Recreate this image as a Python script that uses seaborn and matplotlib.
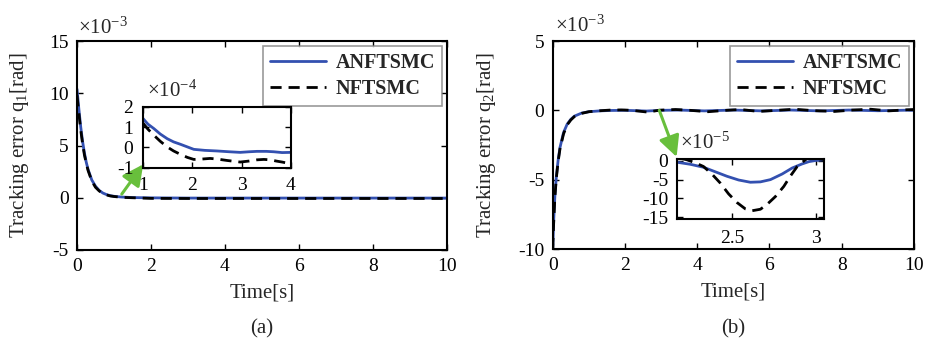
import numpy as np
import pandas as pd
import matplotlib
matplotlib.use("Agg")
import matplotlib.pyplot as plt
import seaborn as sns
from matplotlib.lines import Line2D

sns.set_theme(style="ticks")
plt.rcParams["font.family"] = ["Liberation Serif", "DejaVu Serif"]
plt.rcParams["mathtext.fontset"] = "custom"
plt.rcParams["mathtext.rm"] = "Liberation Serif"
plt.rcParams["mathtext.it"] = "Liberation Serif:italic"
plt.rcParams["axes.unicode_minus"] = False

# ---------------- data (panel a, x1e-3 rad) ----------------
t_a = [0, 0.05, 0.1, 0.15, 0.2, 0.25, 0.3, 0.4, 0.5, 0.6, 0.7, 0.8, 0.9, 1.0,
       1.2, 1.5, 2, 3, 4, 5, 6, 7, 8, 9, 10]
anf_a = [10.4, 8.5, 6.8, 5.4, 4.3, 3.4, 2.7, 1.7, 1.1, 0.7, 0.45, 0.3, 0.2, 0.14,
         0.07, 0.02, -0.01, -0.03, -0.03, -0.03, -0.03, -0.03, -0.03, -0.03, -0.03]
nf_a = [9.8, 8.1, 6.5, 5.2, 4.1, 3.3, 2.6, 1.6, 1.0, 0.65, 0.42, 0.27, 0.17, 0.12,
        0.04, 0.0, -0.06, -0.07, -0.07, -0.07, -0.07, -0.07, -0.07, -0.07, -0.07]

# inset a (x1e-4 rad)
ti_a = [1.0, 1.1, 1.22, 1.35, 1.49, 1.62, 1.76, 1.9, 2.03, 2.25, 2.5, 2.75, 2.97, 3.15, 3.31, 3.5, 3.65, 3.82, 4.0]
anfi_a = [1.43, 1.15, 0.93, 0.66, 0.43, 0.27, 0.15, 0.02, -0.1, -0.15, -0.18, -0.22, -0.25, -0.22, -0.2, -0.2, -0.22, -0.26, -0.25]
ti_a2 = [1.0, 1.1, 1.22, 1.35, 1.49, 1.62, 1.76, 1.9, 2.03, 2.2, 2.36, 2.5, 2.7, 2.97, 3.15, 3.31, 3.45, 3.58, 3.7, 3.82, 4.0]
nfi_a = [1.2, 0.9, 0.6, 0.3, 0.02, -0.18, -0.35, -0.5, -0.6, -0.58, -0.55, -0.58, -0.65, -0.73, -0.68, -0.62, -0.6, -0.62, -0.68, -0.73, -0.82]

# ---------------- data (panel b, x1e-3 rad) ----------------
t_b = [0, 0.03, 0.06, 0.1, 0.15, 0.2, 0.3, 0.4, 0.5, 0.6, 0.8, 1.0, 1.3, 1.6,
       2.0, 2.6, 3.0, 3.5, 4.2, 5.0, 5.8, 6.6, 7.4, 8.2, 9.0, 9.8, 10]
anf_b = [-10, -7.8, -6.2, -4.8, -3.6, -2.7, -1.6, -1.0, -0.65, -0.42, -0.2, -0.1, -0.04, -0.01,
         0.0, -0.05, 0.0, 0.02, -0.04, 0.02, -0.04, 0.02, -0.04, 0.02, -0.03, 0.01, 0.0]
t_b2 = [0, 0.03, 0.06, 0.1, 0.15, 0.2, 0.3, 0.4, 0.5, 0.6, 0.8, 1.0, 1.3, 1.6,
        1.9, 2.2, 2.63, 2.95, 3.4, 3.8, 4.3, 4.8, 5.2, 5.7, 6.2, 6.7, 7.2, 7.8, 8.3, 8.8, 9.3, 9.8, 10]
nf_b = [-10, -7.9, -6.3, -4.9, -3.7, -2.8, -1.7, -1.05, -0.7, -0.45, -0.22, -0.1, -0.03, 0.02,
        0.03, 0.0, -0.13, 0.01, 0.06, 0.0, -0.1, 0.0, 0.06, -0.08, 0.0, 0.08, -0.02, -0.08, 0.02, 0.08, -0.04, 0.04, 0.06]

# inset b (x1e-5 rad)
ti_b = [2.17, 2.25, 2.33, 2.4, 2.47, 2.54, 2.61, 2.67, 2.73, 2.8, 2.86, 2.92, 2.96, 3.0, 3.05]
anfi_b = [-0.35, -0.9, -1.7, -2.9, -4.1, -5.1, -5.7, -5.6, -5.0, -3.5, -1.9, -0.8, -0.2, 0.1, 0.3]
ti_b2 = [2.2, 2.23, 2.28, 2.33, 2.38, 2.43, 2.48, 2.53, 2.58, 2.62, 2.67, 2.71, 2.76, 2.81, 2.85, 2.89, 2.95, 3.0, 3.05]
nfi_b = [0.6, 0.3, -0.5, -1.5, -3.5, -5.9, -8.8, -11.1, -12.8, -13.3, -12.9, -11.6, -9.5, -6.8, -4.0, -1.5, 0.7, 0.6, 0.4]

labels = ["ANFTSMC", "NFTSMC"]
blue = "#3350b0"
dash = (0, (4, 2.5))
green = "#68bf3c"
fs_tick = 14
fs_lab = 15
LW = 2.0

fig = plt.figure(figsize=(9.25, 3.41), dpi=100)
ax_a = fig.add_axes([77/925, 1-250/341, 370/925, 209/341])
ax_b = fig.add_axes([552.7/925, 1-249/341, 361.3/925, 208/341])
ins_a = fig.add_axes([143/925, 1-167.5/341, 148/925, 60.5/341])
ins_b = fig.add_axes([676.7/925, 1-219/341, 147.3/925, 60/341])


def style(ax, pad_x=7, pad_y=7):
    for s in ax.spines.values():
        s.set_linewidth(1.5)
        s.set_color("black")
    ax.tick_params(direction="in", top=True, right=True, length=4, width=1,
                   labelsize=fs_tick, colors="black")
    ax.tick_params(axis="x", pad=pad_x)
    ax.tick_params(axis="y", pad=pad_y)
    ax.set_facecolor("white")


def draw(ax, tx, y1, tx2, y2):
    sns.lineplot(x=tx, y=y1, ax=ax, color=blue, lw=LW, sort=False, estimator=None)
    sns.lineplot(x=tx2, y=y2, ax=ax, color="black", lw=LW, linestyle=dash, sort=False, estimator=None)
    ax.set_xlabel("")
    ax.set_ylabel("")


# panel a
draw(ax_a, t_a, anf_a, t_a, nf_a)
ax_a.set_xlim(0, 10)
ax_a.set_ylim(-5, 15)
ax_a.set_xticks([0, 2, 4, 6, 8, 10])
ax_a.set_yticks([-5, 0, 5, 10, 15])
style(ax_a, 6, 6)
ax_a.set_ylabel("Tracking error q$_1$[rad]", fontsize=fs_lab)
ax_a.yaxis.set_label_coords(-0.125, 0.5)
ax_a.set_xlabel("Time[s]", fontsize=fs_lab)
ax_a.xaxis.set_label_coords(0.5, -0.16)
ax_a.text(0.003, 1.034, r"$\times10^{-3}$", transform=ax_a.transAxes, fontsize=15,
          va="baseline", ha="left")

# panel b
draw(ax_b, t_b, anf_b, t_b2, nf_b)
ax_b.set_xlim(0, 10)
ax_b.set_ylim(-10, 5)
ax_b.set_xticks([0, 2, 4, 6, 8, 10])
ax_b.set_yticks([-10, -5, 0, 5])
style(ax_b, 6, 6)
ax_b.set_ylabel("Tracking error q$_2$[rad]", fontsize=fs_lab)
ax_b.yaxis.set_label_coords(-0.152, 0.5)
ax_b.set_xlabel("Time[s]", fontsize=fs_lab)
ax_b.xaxis.set_label_coords(0.5, -0.16)
ax_b.text(0.006, 1.042, r"$\times10^{-3}$", transform=ax_b.transAxes, fontsize=15,
          va="baseline", ha="left")

# legends
handles = [Line2D([], [], color=blue, lw=LW),
           Line2D([], [], color="black", lw=LW, linestyle=dash)]
for ax in (ax_a, ax_b):
    leg = ax.legend(handles, labels, loc="upper right", frameon=True, fancybox=False,
                    prop={"family": "Liberation Serif", "weight": "bold", "size": 14.5},
                    handlelength=2.8, borderaxespad=0.25, labelspacing=0.3,
                    borderpad=0.35, handletextpad=0.45)
    leg.get_frame().set_edgecolor("#808080")
    leg.get_frame().set_linewidth(1.2)

# inset a
draw(ins_a, ti_a, anfi_a, ti_a2, nfi_a)
ins_a.set_xlim(1, 4)
ins_a.set_ylim(-1, 2)
ins_a.set_xticks([1, 2, 3, 4])
ins_a.set_yticks([-1, 0, 1, 2])
style(ins_a, 7, 7)
ins_a.text(0.025, 1.165, r"$\times10^{-4}$", transform=ins_a.transAxes, fontsize=15,
           va="baseline", ha="left")

# inset b
draw(ins_b, ti_b, anfi_b, ti_b2, nfi_b)
ins_b.set_xlim(2.17, 3.05)
ins_b.set_ylim(-15.5, 0.5)
ins_b.set_xticks([2.5, 3])
ins_b.set_xticklabels(["2.5", "3"])
ins_b.set_yticks([-15, -10, -5, 0])
style(ins_b, 8, 6)
ins_b.text(0.022, 1.178, r"$\times10^{-5}$", transform=ins_b.transAxes, fontsize=15,
           va="baseline", ha="left")

# green arrows
arr = dict(arrowstyle="-|>,head_length=0.9,head_width=0.45", color=green, lw=2.2,
           mutation_scale=14, shrinkA=0, shrinkB=0)
ax_a.annotate("", xy=(1.79, 3.2), xytext=(1.21, 0.35), xycoords="data", arrowprops=arr,
              annotation_clip=False)
ax_b.annotate("", xy=(3.43, -3.36), xytext=(2.95, 0.0), xycoords="data", arrowprops=arr,
              annotation_clip=False)

fig.text(262/925, 1-329/341, "(a)", fontsize=15, ha="center", va="center")
fig.text(733/925, 1-329/341, "(b)", fontsize=15, ha="center", va="center")

fig.savefig("out.png", dpi=100, facecolor="white")
